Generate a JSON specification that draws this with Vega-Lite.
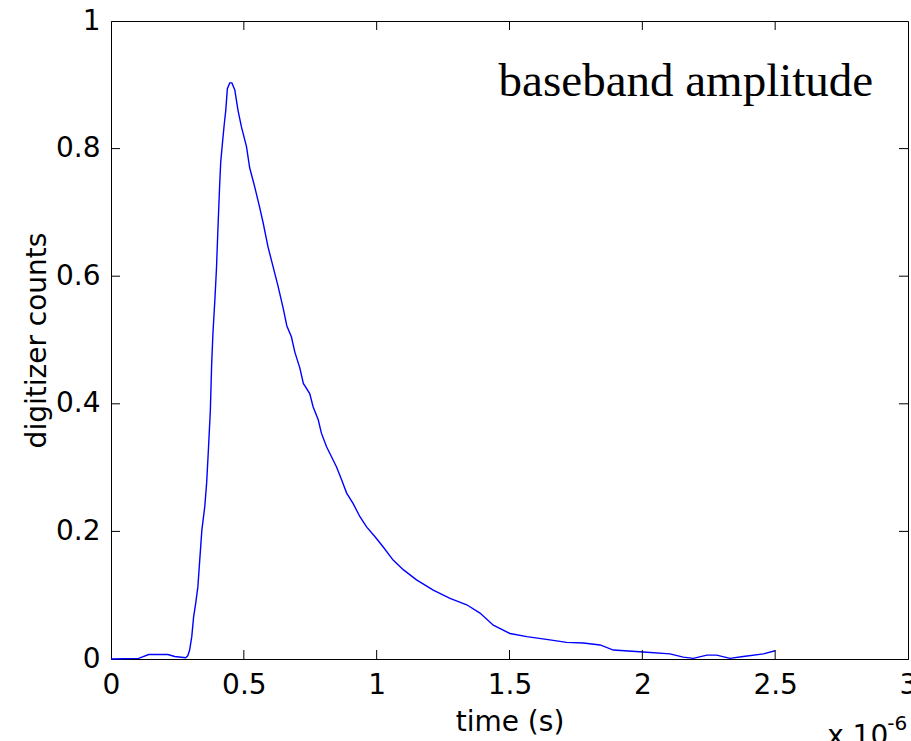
{
  "$schema": "https://vega.github.io/schema/vega-lite/v6.json",
  "width": 797,
  "height": 638,
  "autosize": {"type": "none"},
  "padding": {"left": 111, "top": 21, "right": 3, "bottom": 82},
  "background": "white",
  "config": {
    "view": {"stroke": "black", "strokeWidth": 1},
    "axis": {
      "grid": false,
      "domainColor": "black",
      "labelColor": "black",
      "labelFont": "DejaVu Sans",
      "labelFontSize": 28,
      "labelFlush": false,
      "labelOverlap": false,
      "titleFont": "DejaVu Sans",
      "titleFontSize": 28,
      "titleFontWeight": "normal",
      "titleColor": "black"
    }
  },
  "datasets": {
    "signal": [
      {"t": 0, "v": 0}, {"t": 0.104, "v": 0.001}, {"t": 0.142, "v": 0.007}, {"t": 0.214, "v": 0.007},
      {"t": 0.24, "v": 0.004}, {"t": 0.281, "v": 0.002}, {"t": 0.289, "v": 0.005}, {"t": 0.296, "v": 0.014},
      {"t": 0.304, "v": 0.035}, {"t": 0.311, "v": 0.066}, {"t": 0.319, "v": 0.088}, {"t": 0.327, "v": 0.113},
      {"t": 0.334, "v": 0.155}, {"t": 0.342, "v": 0.202}, {"t": 0.353, "v": 0.239}, {"t": 0.36, "v": 0.276},
      {"t": 0.366, "v": 0.323}, {"t": 0.374, "v": 0.39}, {"t": 0.379, "v": 0.464}, {"t": 0.384, "v": 0.513},
      {"t": 0.391, "v": 0.563}, {"t": 0.397, "v": 0.612}, {"t": 0.403, "v": 0.68}, {"t": 0.409, "v": 0.743},
      {"t": 0.413, "v": 0.779}, {"t": 0.42, "v": 0.811}, {"t": 0.426, "v": 0.837}, {"t": 0.432, "v": 0.86},
      {"t": 0.438, "v": 0.894}, {"t": 0.447, "v": 0.903}, {"t": 0.455, "v": 0.903}, {"t": 0.466, "v": 0.892},
      {"t": 0.478, "v": 0.86}, {"t": 0.491, "v": 0.834}, {"t": 0.51, "v": 0.803}, {"t": 0.522, "v": 0.77},
      {"t": 0.541, "v": 0.74}, {"t": 0.56, "v": 0.707}, {"t": 0.573, "v": 0.683}, {"t": 0.591, "v": 0.646},
      {"t": 0.61, "v": 0.615}, {"t": 0.629, "v": 0.584}, {"t": 0.648, "v": 0.55}, {"t": 0.662, "v": 0.522},
      {"t": 0.679, "v": 0.505}, {"t": 0.692, "v": 0.481}, {"t": 0.711, "v": 0.456}, {"t": 0.724, "v": 0.432},
      {"t": 0.748, "v": 0.416}, {"t": 0.761, "v": 0.395}, {"t": 0.78, "v": 0.375}, {"t": 0.792, "v": 0.354},
      {"t": 0.811, "v": 0.333}, {"t": 0.83, "v": 0.317}, {"t": 0.849, "v": 0.301}, {"t": 0.868, "v": 0.281},
      {"t": 0.887, "v": 0.26}, {"t": 0.911, "v": 0.244}, {"t": 0.937, "v": 0.223}, {"t": 0.962, "v": 0.207},
      {"t": 0.993, "v": 0.192}, {"t": 1.024, "v": 0.176}, {"t": 1.062, "v": 0.155}, {"t": 1.1, "v": 0.14},
      {"t": 1.15, "v": 0.124}, {"t": 1.213, "v": 0.108}, {"t": 1.276, "v": 0.095}, {"t": 1.339, "v": 0.085},
      {"t": 1.389, "v": 0.072}, {"t": 1.439, "v": 0.053}, {"t": 1.502, "v": 0.04}, {"t": 1.565, "v": 0.035},
      {"t": 1.652, "v": 0.03}, {"t": 1.715, "v": 0.026}, {"t": 1.778, "v": 0.025}, {"t": 1.841, "v": 0.022},
      {"t": 1.891, "v": 0.014}, {"t": 2.004, "v": 0.011}, {"t": 2.104, "v": 0.008}, {"t": 2.154, "v": 0.003},
      {"t": 2.192, "v": 0.001}, {"t": 2.243, "v": 0.006}, {"t": 2.28, "v": 0.006}, {"t": 2.33, "v": 0.001},
      {"t": 2.38, "v": 0.004}, {"t": 2.456, "v": 0.008}, {"t": 2.5, "v": 0.013}
    ],
    "xticks": [{"tx": 0.5}, {"tx": 1}, {"tx": 1.5}, {"tx": 2}, {"tx": 2.5}],
    "yticks": [{"ty": 0.2}, {"ty": 0.4}, {"ty": 0.6}, {"ty": 0.8}]
  },
  "layer": [
    {
      "data": {"name": "signal"},
      "mark": {"type": "line", "color": "#0000ff", "strokeWidth": 1.4},
      "encoding": {
        "x": {
          "field": "t", "type": "quantitative",
          "scale": {"domain": [0, 3], "nice": false, "zero": false},
          "axis": {
            "orient": "bottom",
            "values": [0, 0.5, 1, 1.5, 2, 2.5, 3],
            "format": "~g",
            "ticks": false,
            "labelPadding": 12,
            "title": "time (s)",
            "titleBaseline": "alphabetic",
            "titleY": 71
          }
        },
        "y": {
          "field": "v", "type": "quantitative",
          "scale": {"domain": [0, 1], "nice": false, "zero": false},
          "axis": {
            "orient": "left",
            "values": [0, 0.2, 0.4, 0.6, 0.8, 1],
            "format": "~g",
            "ticks": false,
            "labelPadding": 11,
            "title": "digitizer counts",
            "titleBaseline": "alphabetic",
            "titleX": -66
          }
        }
      }
    },
    {
      "data": {"name": "xticks"},
      "mark": {"type": "rule", "color": "black", "strokeWidth": 1},
      "encoding": {
        "x": {"field": "tx", "type": "quantitative", "axis": null},
        "y": {"datum": 0, "type": "quantitative", "axis": null},
        "y2": {"datum": 0.0141}
      }
    },
    {
      "data": {"name": "xticks"},
      "mark": {"type": "rule", "color": "black", "strokeWidth": 1},
      "encoding": {
        "x": {"field": "tx", "type": "quantitative", "axis": null},
        "y": {"datum": 1, "type": "quantitative", "axis": null},
        "y2": {"datum": 0.9859}
      }
    },
    {
      "data": {"name": "yticks"},
      "mark": {"type": "rule", "color": "black", "strokeWidth": 1},
      "encoding": {
        "y": {"field": "ty", "type": "quantitative", "axis": null},
        "x": {"datum": 0, "type": "quantitative", "axis": null},
        "x2": {"datum": 0.0339}
      }
    },
    {
      "data": {"name": "yticks"},
      "mark": {"type": "rule", "color": "black", "strokeWidth": 1},
      "encoding": {
        "y": {"field": "ty", "type": "quantitative", "axis": null},
        "x": {"datum": 3, "type": "quantitative", "axis": null},
        "x2": {"datum": 2.9661}
      }
    },
    {
      "data": {"values": [{}]},
      "mark": {"type": "text", "text": "baseband amplitude", "font": "Liberation Serif", "fontSize": 47, "align": "right", "baseline": "alphabetic", "color": "black"},
      "encoding": {
        "x": {"datum": 2.869, "type": "quantitative", "axis": null},
        "y": {"datum": 0.8824, "type": "quantitative", "axis": null}
      }
    },
    {
      "data": {"values": [{}]},
      "mark": {"type": "text", "text": "x 10", "font": "DejaVu Sans", "fontSize": 28, "align": "left", "baseline": "alphabetic", "color": "black"},
      "encoding": {
        "x": {"datum": 2.6956, "type": "quantitative", "axis": null},
        "y": {"datum": -0.1354, "type": "quantitative", "axis": null}
      }
    },
    {
      "data": {"values": [{}]},
      "mark": {"type": "text", "text": "-6", "font": "DejaVu Sans", "fontSize": 20, "align": "left", "baseline": "alphabetic", "color": "black"},
      "encoding": {
        "x": {"datum": 2.9217, "type": "quantitative", "axis": null},
        "y": {"datum": -0.1107, "type": "quantitative", "axis": null}
      }
    }
  ],
  "resolve": {"axis": {"x": "independent", "y": "independent"}}
}
